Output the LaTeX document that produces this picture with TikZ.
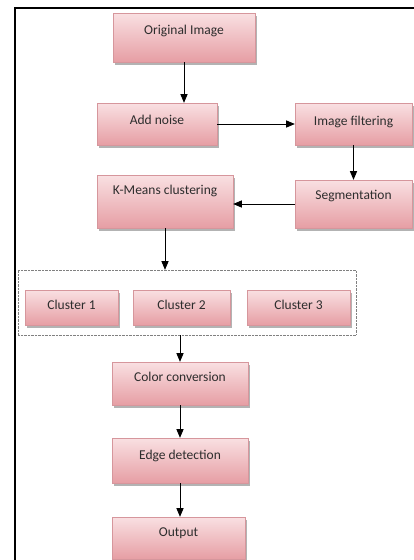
\documentclass[tikz,border=0pt]{standalone}
\usepackage{fontspec}
\setmainfont{Carlito}
\usepackage{tikz}
\usetikzlibrary{arrows,shadows}

\definecolor{pinkdark}{RGB}{230,158,164}
\definecolor{pinklight}{RGB}{249,224,226}
\definecolor{pinkedge}{RGB}{214,150,156}
\definecolor{textgray}{RGB}{45,45,45}

\begin{document}
\begin{tikzpicture}[x=1pt, y=-1pt, >=triangle 45, font=\fontsize{13.5}{16}\selectfont]
		\tikzstyle{stage}=[draw=pinkedge, top color=pinklight, bottom color=pinkdark, inner ysep=0pt, text=textgray,
			drop shadow={shadow xshift=2pt, shadow yshift=-2.5pt, fill=gray, opacity=0.6}];
		\tikzstyle{group}=[draw=gray, densely dotted, inner sep=0pt];
		\tikzstyle{flow}=[->, line width=1pt];

		\useasboundingbox (0,0) rectangle (414,560);
		\draw[line width=2pt] (15,560) -- (15,8) -- (414,8);

		\node[stage, minimum width=142pt, text height=21.5pt, text depth=27.5pt] (orig) at (184,37.5) {Original Image};
		\node[stage, minimum width=120pt, text height=21.5pt, text depth=20.5pt] (noise) at (157,124) {Add noise};
		\node[stage, minimum width=117pt, text height=22pt, text depth=20pt] (filter) at (353.5,124) {Image filtering};
		\node[stage, minimum width=136pt, text height=19.5pt, text depth=33.5pt] (kmeans) at (165,201.5) {K-Means clustering};
		\node[stage, minimum width=117pt, text height=19.5pt, text depth=28.5pt] (seg) at (353.5,204) {Segmentation};

		\node[group, minimum width=338pt, minimum height=65pt] (clusters) at (187,302.5) {};
		\foreach \i/\x/\w in {1/71.5/93, 2/181.5/97, 3/298.5/103}
			\node[stage, minimum width=\w pt, text height=19.5pt, text depth=15.5pt] (c\i) at (\x,307.5) {Cluster \i};

		\node[stage, minimum width=136pt, text height=19.5pt, text depth=23.5pt] (color) at (180,383.5) {Color conversion};
		\node[stage, minimum width=136pt, text height=21.5pt, text depth=23.5pt] (edge) at (180,460.5) {Edge detection};
		\node[stage, minimum width=133pt, text height=19.5pt, text depth=22.5pt] (output) at (178.5,538) {Output};

		\draw[flow] (orig.south) -- (orig.south |- noise.north);
		\draw[flow] (noise.east) -- (filter.west |- noise.east);
		\draw[flow] (filter.south) -- (seg.north);
		\draw[flow] (seg.west) -- (kmeans.east |- seg.west);
		\draw[flow] (kmeans.south) -- (kmeans.south |- clusters.north);
		\draw[flow] (clusters.south -| color.north) -- (color.north);
		\draw[flow] (color.south) -- (edge.north);
		\draw[flow] (edge.south) -- (edge.south |- output.north);
	\end{tikzpicture}
\end{document}
